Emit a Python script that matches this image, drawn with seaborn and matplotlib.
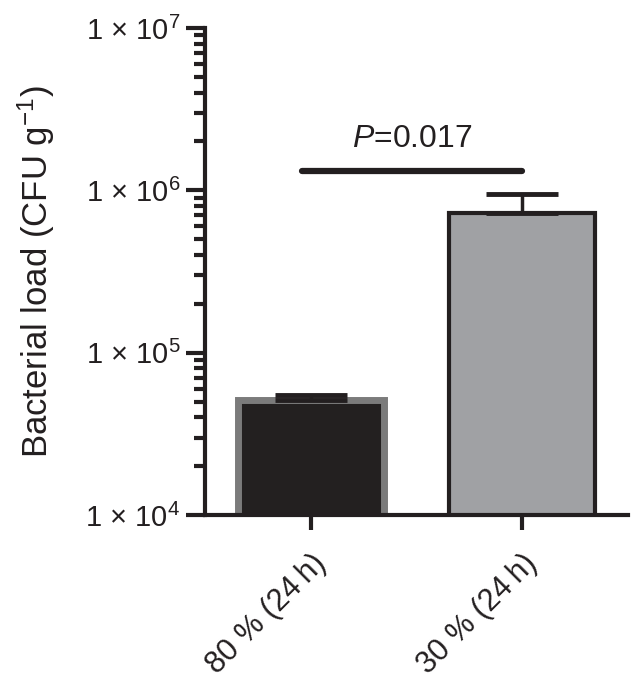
#!/usr/bin/env python3
"""
Bacterial load at 80 % vs 30 % humidity (24 h), log-scale bar chart
"""

import matplotlib
matplotlib.use('Agg')
import matplotlib.pyplot as plt
import numpy as np
import pandas as pd
import seaborn as sns
from matplotlib.ticker import LogLocator, FixedLocator

# Data
conditions = ['80 % (24\u2009h)', '30 % (24\u2009h)']
means = [5.1e4, 7.3e5]
sem = [3.5e3, 2.2e5]
fills = ['#231f20', '#a0a1a4']
edges = ['#7b7b7b', '#231f20']
p_text = '$P$=0.017'
ytick_vals = [1e4, 1e5, 1e6, 1e7]
ytick_labels = ['1 \u00d7 10$^{4}$', '1 \u00d7 10$^{5}$',
                '1 \u00d7 10$^{6}$', '1 \u00d7 10$^{7}$']


def main():
    sns.set_theme(style='ticks')
    plt.rcParams['font.family'] = ['Liberation Sans', 'DejaVu Sans']
    plt.rcParams['mathtext.fontset'] = 'custom'
    plt.rcParams['mathtext.rm'] = 'Liberation Sans'
    plt.rcParams['mathtext.it'] = 'Liberation Sans:italic'
    plt.rcParams['mathtext.bf'] = 'Liberation Sans:bold'

    df = pd.DataFrame({'condition': conditions, 'load': means})

    fig = plt.figure(figsize=(6.33, 6.83), dpi=100)
    ax = fig.add_axes([0.324, 0.246, 0.668, 0.713])

    sns.barplot(data=df, x='condition', y='load', hue='condition',
                palette=fills, errorbar=None, width=0.69, legend=False,
                ax=ax)
    ax.set_yscale('log')

    for patch, ec, lw in zip(ax.patches, edges, [5.0, 3.0]):
        patch.set_edgecolor(ec)
        patch.set_linewidth(lw)
        patch.set_joinstyle('miter')

    # upper-only error bars
    xs = np.arange(len(conditions))
    ax.errorbar(xs, means, yerr=[np.zeros(len(sem)), sem], fmt='none',
                ecolor='#231f20', elinewidth=2.5, capsize=26, capthick=3.5,
                zorder=1)

    # significance bar
    y_sig = 1.32e6
    ax.plot([-0.04, 1.0], [y_sig, y_sig], color='#231f20', lw=4.5,
            solid_capstyle='round', clip_on=False)
    ax.text(0.48, 1.68e6, p_text, ha='center', va='bottom', fontsize=23,
            color='#231f20')

    ax.set_ylim(1e4, 1e7)
    ax.set_xlim(-0.5, 1.5)
    ax.yaxis.set_major_locator(FixedLocator(ytick_vals))
    ax.set_yticklabels(ytick_labels)
    ax.yaxis.set_minor_locator(LogLocator(base=10, subs=np.arange(2, 10)))

    ax.set_xlabel('')
    ax.set_ylabel('Bacterial load (CFU g$^{-1}$)', fontsize=25,
                  color='#231f20', labelpad=20)

    ax.tick_params(axis='y', which='major', length=14, width=3,
                   labelsize=21, color='#231f20', labelcolor='#231f20', pad=4)
    ax.tick_params(axis='y', which='minor', length=8, width=3,
                   color='#231f20')
    ax.tick_params(axis='x', which='major', length=11, width=3,
                   labelsize=22, color='#231f20', labelcolor='#231f20', pad=13)
    ax.set_xticks(xs)
    ax.set_xticklabels(conditions, rotation=45, ha='right',
                       rotation_mode='anchor')

    sns.despine(ax=ax)
    for side in ['left', 'bottom']:
        ax.spines[side].set_linewidth(3)
        ax.spines[side].set_color('#231f20')

    fig.savefig('out.png', dpi=100, facecolor='white')


if __name__ == '__main__':
    main()
